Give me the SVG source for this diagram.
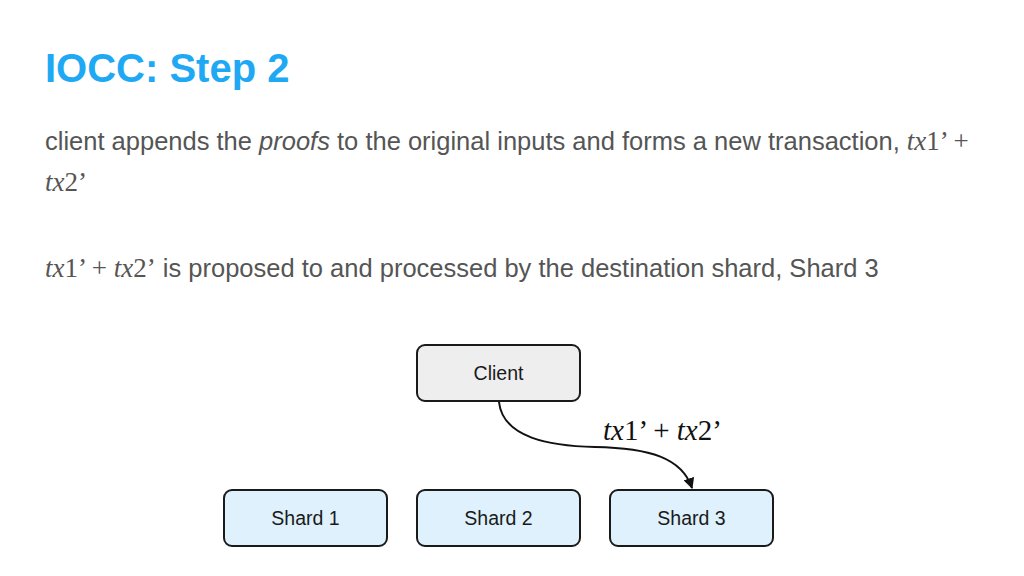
<svg xmlns="http://www.w3.org/2000/svg" width="1024" height="576" viewBox="0 0 1024 576">
<defs>
<style>
.title{font-family:"Liberation Sans",Arial,sans-serif;font-weight:bold;font-size:40px;fill:#1fa9f4}
.body{font-family:"Liberation Sans",Arial,sans-serif;font-size:25.5px;fill:#555555}
.math{font-family:"Liberation Serif","Times New Roman",serif;font-size:27px;fill:#555555}
.it{font-style:italic}
.box{stroke:#1a1a1a;stroke-width:2}
.client{fill:#eeeeee}
.shard{fill:#dff1fc}
.lbl{font-family:"Liberation Sans",Arial,sans-serif;font-size:19.5px;fill:#1a1a1a;text-anchor:middle}
.edge{fill:none;stroke:#111111;stroke-width:2}
.elbl{font-family:"Liberation Serif","Times New Roman",serif;font-size:29px;fill:#111111}
</style>
<marker id="arr" viewBox="0 0 10 10" refX="9" refY="5" markerWidth="11" markerHeight="11" orient="auto" markerUnits="userSpaceOnUse">
<path d="M0,0 L10,5 L0,10 z" fill="#111111"/>
</marker>
</defs>
<rect width="1024" height="576" fill="#ffffff"/>
<text class="title" x="45" y="82">IOCC: Step 2</text>
<text class="body" x="45" y="150">client appends the <tspan font-style="italic">proofs</tspan> to the original inputs and forms a new transaction, <tspan class="math"><tspan class="it">tx</tspan>1’ +</tspan></text>
<text class="body math" x="45" y="191"><tspan class="it">tx</tspan>2’</text>
<text class="body" x="45" y="277"><tspan class="math"><tspan class="it">tx</tspan>1’ + <tspan class="it">tx</tspan>2’</tspan> is proposed to and processed by the destination shard, Shard 3</text>
<g id="client">
<rect class="box client" x="417" y="345" width="163" height="56" rx="8"/>
<text class="lbl" x="498.5" y="380">Client</text>
</g>
<g id="shard1">
<rect class="box shard" x="224" y="490" width="163" height="56" rx="8"/>
<text class="lbl" x="305.5" y="525">Shard 1</text>
</g>
<g id="shard2">
<rect class="box shard" x="417" y="490" width="163" height="56" rx="8"/>
<text class="lbl" x="498.5" y="525">Shard 2</text>
</g>
<g id="shard3">
<rect class="box shard" x="610" y="490" width="163" height="56" rx="8"/>
<text class="lbl" x="691.5" y="525">Shard 3</text>
</g>
<g id="connectors">
<path class="edge" d="M499,402 C503,438 550,446 595,447 C650,448 682,458 692,488" marker-end="url(#arr)"/>
<text class="elbl" x="603" y="440"><tspan font-style="italic">tx</tspan>1’ + <tspan font-style="italic">tx</tspan>2’</text>
</g>
</svg>
